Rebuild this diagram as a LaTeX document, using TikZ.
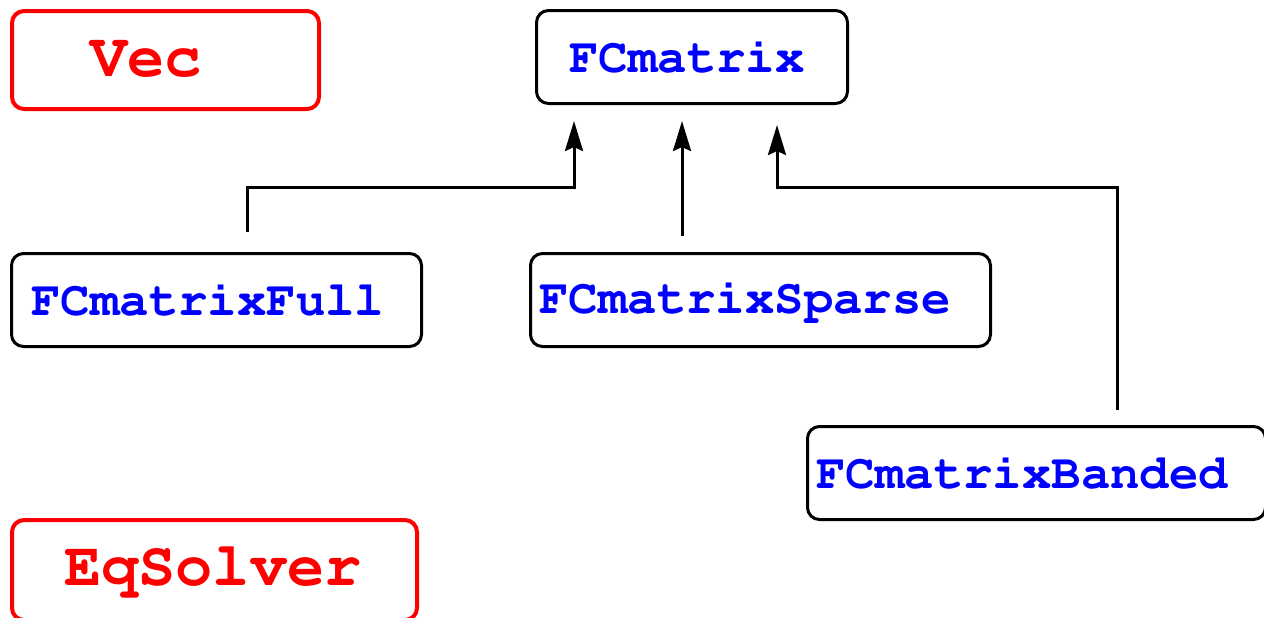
\documentclass[tikz,border=0pt]{standalone}
\usepackage[T1,TU]{fontenc}
\usepackage{xcolor}
\usepackage{tikz}
\usetikzlibrary{arrows.meta, positioning, calc}
\definecolor{classred}{RGB}{255, 0, 0}
\definecolor{classblue}{RGB}{0, 0, 255}
\newcommand{\courierbold}[1]{\fontencoding{T1}\fontfamily{pcr}\fontseries{b}\fontsize{#1}{#1}\selectfont}

\begin{document}
\begin{tikzpicture}[x=0.5pt, y=-0.5pt,
    classbox/.style={draw, rounded corners=6pt, anchor=north west, align=left},
    plainbox/.style={classbox, black, line width=1.5pt, text=classblue, minimum height=46.5pt,
        font=\courierbold{24.5}},
    redbox/.style={classbox, classred, line width=2pt, text=classred, font=\courierbold{31}},
    link/.style={draw, line width=1.5pt, -{Stealth[length=15pt, width=9pt, inset=2pt]}}]
    \useasboundingbox (0,0) rectangle (1264,617);

    % Class boxes
    \node[redbox, minimum height=49pt, inner xsep=39pt, text width=75.5pt] (vec) at (10,9) {Vec};
    \node[plainbox, inner xsep=16.5pt, text width=122.5pt] (fcm) at (535,9) {FCmatrix};
    \node[plainbox, inner xsep=10pt, text width=185pt] (full) at (10,252) {FCmatrixFull};
    \node[plainbox, inner xsep=4.5pt, text width=221pt] (sparse) at (529,252) {FCmatrixSparse};
    \node[plainbox, inner xsep=4.5pt, text width=220pt] (banded) at (806,425) {FCmatrixBanded};
    \node[redbox, minimum height=50pt, inner xsep=26pt, text width=150.5pt] (eqs) at (10,518) {EqSolver};

    % Inheritance connectors
    \coordinate (fullout) at ([xshift=118.5pt, yshift=10pt]full.north west);
    \coordinate (sparseout) at ([xshift=76.5pt, yshift=8pt]sparse.north west);
    \coordinate (bandedout) at ([xshift=155.5pt, yshift=7.5pt]banded.north west);
    \coordinate (fcmleft) at ([xshift=19.5pt, yshift=-8pt]fcm.south west);
    \coordinate (fcmright) at ([xshift=121pt, yshift=-10pt]fcm.south west);

    \draw[link] (fullout) -- ++(0,-45) -| (fcmleft);
    \draw[link] (sparseout) -- (sparseout |- fcmleft);
    \draw[link] (bandedout) -- ++(0,-223) -| (fcmright);
\end{tikzpicture}
\end{document}
